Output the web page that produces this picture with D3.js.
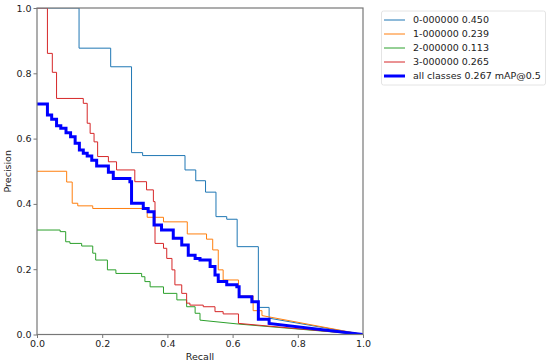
<!DOCTYPE html>
<html><head><meta charset="utf-8">
<script src="https://cdn.jsdelivr.net/npm/d3@7"></script>
<style>body{margin:0;background:#fff}svg{display:block}text{font-family:"DejaVu Sans",sans-serif}</style>
</head><body><svg id="c" width="550" height="364"></svg>
<script>
const xTicks = [0, 0.2, 0.4, 0.6, 0.8, 1.0];
const yTicks = [0, 0.2, 0.4, 0.6, 0.8, 1.0];
const names = ["0-000000 0.450", "1-000000 0.239", "2-000000 0.113", "3-000000 0.265", "all classes 0.267 mAP@0.5"];
const colors = ["#1f77b4", "#ff7f0e", "#2ca02c", "#d62728", "blue"];
const widths = [1, 1, 1, 1, 3];

const class0Steps = [[0,1],[0.129,0.877],[0.226,0.82],[0.29,0.557],[0.324,0.548],[0.454,0.504],[0.487,0.471],[0.517,0.436],[0.549,0.361],[0.582,0.353],[0.614,0.269],[0.679,0.083],[0.712,0.05]];
const class0Tail = [[1,0]];
const class1Steps = [[0,0.5],[0.091,0.467],[0.108,0.402],[0.125,0.394],[0.171,0.386],[0.338,0.359],[0.388,0.345],[0.461,0.308],[0.52,0.292],[0.539,0.259],[0.556,0.198],[0.571,0.167],[0.618,0.118],[0.663,0.073],[0.69,0.058]];
const class1Tail = [[1,0]];
const class2Steps = [[0,0.32],[0.071,0.315],[0.088,0.284],[0.101,0.279],[0.137,0.271],[0.171,0.249],[0.18,0.228],[0.216,0.198],[0.242,0.187],[0.321,0.177],[0.331,0.162],[0.347,0.146],[0.388,0.126],[0.429,0.106],[0.459,0.085],[0.485,0.065],[0.5,0.044]];
const class2Tail = [[0.618,0.032],[1,0]];
const class3Steps = [[0,1],[0.032,0.861],[0.047,0.803],[0.06,0.723],[0.142,0.708],[0.154,0.647],[0.163,0.616],[0.175,0.59],[0.186,0.545],[0.219,0.529],[0.244,0.504],[0.3,0.468],[0.336,0.443],[0.357,0.407],[0.362,0.279],[0.388,0.264],[0.398,0.233],[0.414,0.198],[0.423,0.152],[0.444,0.126],[0.459,0.096],[0.469,0.09],[0.51,0.085],[0.546,0.07],[0.571,0.063],[0.618,0.034]];
const class3Tail = [[1,0]];
const allSteps = [[0,0.706],[0.032,0.672],[0.045,0.659],[0.06,0.639],[0.073,0.632],[0.089,0.618],[0.103,0.606],[0.117,0.586],[0.13,0.565],[0.142,0.555],[0.154,0.547],[0.168,0.534],[0.183,0.516],[0.219,0.497],[0.234,0.478],[0.285,0.468],[0.29,0.402],[0.326,0.386],[0.341,0.376],[0.359,0.335],[0.382,0.32],[0.418,0.295],[0.444,0.274],[0.464,0.243],[0.485,0.233],[0.5,0.228],[0.531,0.208],[0.546,0.182],[0.556,0.162],[0.582,0.152],[0.613,0.146],[0.62,0.116],[0.659,0.1],[0.679,0.047],[0.712,0.034]];
const allTail = [[1,0]];

const series = [
  {steps: class0Steps, tail: class0Tail},
  {steps: class1Steps, tail: class1Tail},
  {steps: class2Steps, tail: class2Tail},
  {steps: class3Steps, tail: class3Tail},
  {steps: allSteps, tail: allTail}
];

const L = 37, R = 363, T = 8, B = 334.5;
const svg = d3.select("#c");
const x = d3.scaleLinear().domain([0,1]).range([L,R]);
const y = d3.scaleLinear().domain([0,1]).range([B,T]);

svg.append("clipPath").attr("id","clip").append("rect").attr("x",L).attr("y",T).attr("width",R-L).attr("height",B-T);

const g = svg.append("g").attr("clip-path","url(#clip)");
const stepLine = d3.line().x(d=>x(d[0])).y(d=>y(d[1])).curve(d3.curveStepAfter);
series.forEach((s,i)=>{
  let d = stepLine(s.steps);
  s.tail.forEach(p=>{ d += "L" + x(p[0]) + "," + y(p[1]); });
  g.append("path").attr("d", d).attr("fill","none").attr("stroke",colors[i]).attr("stroke-width",widths[i]).attr("stroke-linejoin","miter");
});

// axes
const xa = svg.append("g").attr("transform",`translate(0,${B})`).call(d3.axisBottom(x).tickValues(xTicks).tickFormat(d3.format(".1f")).tickSize(3.5).tickPadding(2));
const ya = svg.append("g").attr("transform",`translate(${L},0)`).call(d3.axisLeft(y).tickValues(yTicks).tickFormat(d3.format(".1f")).tickSize(3.5).tickPadding(2));
[xa,ya].forEach(a=>{
  a.select(".domain").remove();
  a.selectAll("line").attr("stroke","#777").attr("stroke-width",1);
  a.selectAll("text").attr("font-size","9.5px").attr("fill","#222").style("font-family","DejaVu Sans");
});
svg.append("rect").attr("x",L).attr("y",T).attr("width",R-L).attr("height",B-T).attr("fill","none").attr("stroke","#777").attr("stroke-width",1.2);

svg.append("text").attr("x",(L+R)/2).attr("y",360).attr("text-anchor","middle").attr("font-size","9.5px").attr("fill","#222").text("Recall");
svg.append("text").attr("transform",`translate(11,${(T+B)/2}) rotate(-90)`).attr("text-anchor","middle").attr("font-size","9.5px").attr("fill","#222").text("Precision");

// legend
const lg = svg.append("g");
lg.append("rect").attr("x",381.5).attr("y",11).attr("width",164).attr("height",74).attr("rx",2).attr("fill","#fff").attr("stroke","#ddd").attr("stroke-width",0.8);
names.forEach((n,i)=>{
  const yy = 20 + i*14;
  lg.append("line").attr("x1",384).attr("x2",405).attr("y1",yy).attr("y2",yy).attr("stroke",colors[i]).attr("stroke-width",widths[i]);
  lg.append("text").attr("x",413).attr("y",yy+3.4).attr("font-size","9.5px").attr("fill","#222").text(n);
});
</script></body></html>
